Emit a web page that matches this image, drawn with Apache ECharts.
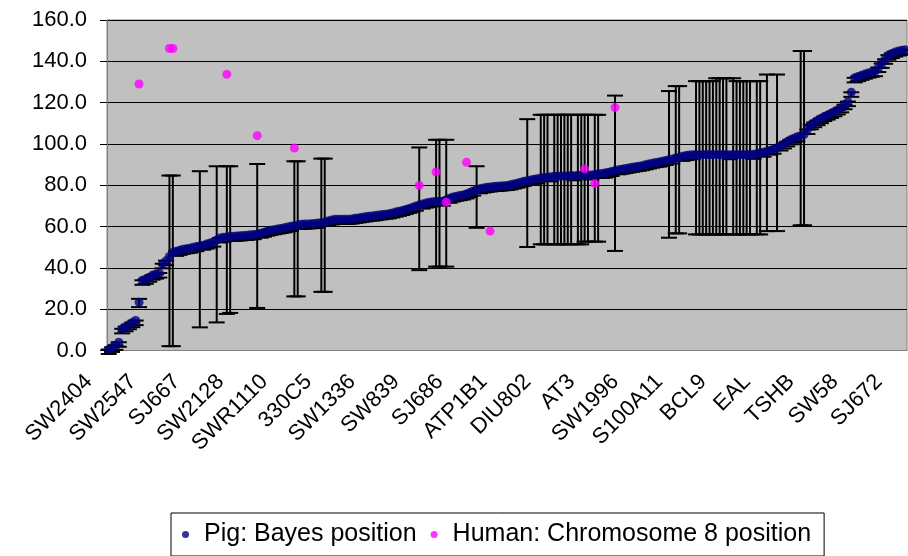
<!DOCTYPE html>
<html>
<head>
<meta charset="utf-8">
<script src="https://cdn.jsdelivr.net/npm/echarts@6/dist/echarts.min.js"></script>
<style>
  html, body { margin: 0; padding: 0; background: #fff; }
  #chart { width: 908px; height: 556px; }
</style>
</head>
<body>
<div id="chart"></div>
<script>
// Pig: Bayes position, one value per marker (ordered)
const bayesPos = [
  0.5, 1.5, 2.5, 4, 10.5, 11.5, 12.5, 13.5, 14.5, 23.3,
  34, 34.5, 35.5, 36.5, 37, 37.5, 42, 43.5, 45.5, 47.5,
  48, 48.5, 49, 49.3, 49.5, 50, 50.3, 50.6, 51, 51.5,
  52, 52.5, 53.5, 54.5, 54.8, 55, 55.2, 55.3, 55.4, 55.5,
  55.7, 55.8, 56, 56.1, 56.3, 56.8, 57.3, 57.8, 58.2, 58.5,
  58.8, 59.1, 59.4, 59.8, 60.1, 60.4, 60.7, 61.1, 61.2, 61.3,
  61.4, 61.5, 61.7, 61.8, 62.2, 62.7, 63.2, 63.5, 63.5, 63.5,
  63.5, 63.5, 63.7, 64, 64.2, 64.5, 64.7, 65, 65.1, 65.3,
  65.6, 65.8, 66, 66.2, 66.6, 67, 67.4, 67.8, 68.3, 68.8,
  69.3, 69.9, 70.4, 70.9, 71.4, 71.8, 72, 72.1, 72.2, 72.3,
  73, 73.7, 74.3, 74.7, 75, 75.3, 75.8, 76.5, 77.2, 77.8,
  78.3, 78.7, 79, 79.2, 79.4, 79.5, 79.6, 79.8, 79.9, 80.2,
  80.6, 81, 81.5, 81.9, 82.2, 82.5, 82.9, 83.2, 83.5, 83.7,
  83.9, 84.1, 84.2, 84.3, 84.4, 84.5, 84.5, 84.6, 84.6, 84.7,
  84.7, 84.8, 84.8, 85, 85.2, 85.5, 85.7, 85.9, 86.3, 86.7,
  87.1, 87.5, 87.8, 88.1, 88.4, 88.7, 89, 89.2, 89.5, 89.9,
  90.3, 90.7, 91, 91.2, 91.6, 92, 92.3, 92.7, 93.2, 93.5,
  94, 94.4, 94.7, 94.8, 94.8, 94.8, 94.8, 94.8, 94.8, 94.8,
  94.8, 94.8, 94.8, 94.8, 94.8, 94.8, 94.8, 94.8, 94.8, 94.8,
  94.8, 95, 95.3, 95.6, 96, 96.5, 97, 97.5, 98, 99,
  100, 101, 102, 102.8, 103.5, 104, 104.5, 107, 109.3, 110.3,
  111.3, 112.3, 113.3, 114, 114.8, 115.6, 116.5, 117.5, 119, 120.5,
  125, 132, 132.6, 133.2, 133.8, 134.3, 134.7, 135, 137, 139,
  141, 143, 143.8, 144.5, 145, 145.4, 145.6
];

// every 13th marker name is printed on the axis
const tickLabels = ['SW2404', 'SW2547', 'SJ667', 'SW2128', 'SWR1110', '330C5', 'SW1336',
  'SW839', 'SJ686', 'ATP1B1', 'DIU802', 'AT3', 'SW1996', 'S100A11', 'BCL9', 'EAL',
  'TSHB', 'SW58', 'SJ672'];
const labelStep = 13;

// confidence bars (marker index, low, high)
const barCats = [9, 18, 19, 27, 32, 35, 36, 44, 55, 56, 63, 64, 92, 97, 98, 100, 109, 124,
  128, 129, 130, 132, 133, 134, 135, 136, 137, 139, 140, 141, 142, 144, 145, 150,
  166, 168, 169,
  174, 175, 176, 177, 178, 179, 180, 181, 182, 183, 185, 186, 187, 188, 189, 190, 192, 193,
  195, 198, 205, 206];
const barLow = [21, 2.1, 2.1, 11.2, 13.6, 17.7, 18.2, 20.6, 26.2, 26.2, 28.4, 28.4, 38.9, 40.6, 40.6, 40.6, 59.4, 50.1,
  51.4, 51.4, 51.4, 51.4, 51.4, 51.4, 51.4, 51.4, 51.4, 51.4, 51.4, 52.7, 52.7, 52.7, 52.7, 48.2,
  54.6, 56.7, 56.7,
  56.2, 56.2, 56.2, 56.2, 56.2, 56.2, 56.2, 56.2, 56.2, 56.2, 56.2, 56.2, 56.2, 56.2, 56.2, 56.2, 56.2, 56.2,
  57.8, 57.8, 60.6, 60.6];
const barHigh = [25, 84.7, 84.7, 86.8, 89.2, 89.2, 89.2, 90.3, 91.6, 91.6, 92.9, 92.9, 98.3, 102, 102, 102, 89.2, 112,
  114.1, 114.1, 114.1, 114.1, 114.1, 114.1, 114.1, 114.1, 114.1, 114.1, 114.1, 114.1, 114.1, 114.1, 114.1, 123.4,
  125.6, 128, 128,
  130.4, 130.4, 130.4, 130.4, 130.4, 130.4, 131.8, 131.8, 131.8, 131.8, 131.8, 130.4, 130.4, 130.4, 130.4, 130.4, 130.4, 130.4,
  133.6, 133.6, 145, 145];
// short lower whisker visible under the other markers
const smallErr = 2.2;

// Human: Chromosome 8 position
const humanCats = [9, 18, 19, 35, 44, 55, 92, 97, 100, 106, 113, 141, 144, 150];
const humanPos = [129, 146.2, 146.2, 133.7, 104, 98, 79.9, 86.4, 71.8, 91.1, 57.8, 87.9, 80.8, 117.6];

const FONT = '"Liberation Sans", Arial, sans-serif';

const categories = bayesPos.map((_, i) => String(i));
const errData = bayesPos.map((v, i) => {
  const k = barCats.indexOf(i);
  return k >= 0 ? [i, barLow[k], barHigh[k]] : [i, v - smallErr, v];
});

const chart = echarts.init(document.getElementById('chart'), null, { renderer: 'canvas' });

const option = {
  backgroundColor: '#fff',
  animation: false,
  grid: {
    left: 107, right: 1, top: 20, bottom: 205.5,
    show: true,
    backgroundColor: '#c0c0c0',
    borderColor: '#808080',
    borderWidth: 1,
    containLabel: false,
    outerBoundsMode: 'none'
  },
  legend: {
    data: ['Pig: Bayes position', 'Human: Chromosome 8 position'],
    left: 171, top: 513,
    padding: [9, 13, 9, 11],
    itemGap: 14,
    itemWidth: 7, itemHeight: 7,
    icon: 'circle',
    backgroundColor: '#fff',
    borderColor: '#000',
    borderWidth: 1,
    borderRadius: 0,
    textStyle: { fontFamily: FONT, fontSize: 25, color: '#000', padding: [0, 0, 0, 10] }
  },
  xAxis: {
    type: 'category',
    data: categories,
    boundaryGap: true,
    axisLine: { lineStyle: { color: '#808080', width: 1 } },
    axisTick: { interval: 0, length: 5, lineStyle: { color: '#000' } },
    axisLabel: {
      interval: labelStep - 1,
      rotate: 45,
      margin: 8,
      padding: [18, 28, 0, 0],
      fontFamily: FONT, fontSize: 22, color: '#000',
      formatter: (v, idx) => (idx % labelStep === 0 ? (tickLabels[idx / labelStep] || '') : '')
    },
    splitLine: { show: false }
  },
  yAxis: {
    type: 'value',
    min: 0, max: 160, interval: 20,
    axisLine: { show: true, lineStyle: { color: '#808080' } },
    axisTick: { show: true, length: 7, lineStyle: { color: '#000' } },
    axisLabel: {
      margin: 20,
      fontFamily: FONT, fontSize: 22, color: '#000',
      formatter: v => v.toFixed(1)
    },
    splitLine: { lineStyle: { color: '#000', width: 1 } }
  },
  series: [
    {
      name: 'bars',
      type: 'custom',
      silent: true,
      z: 2,
      encode: { x: 0, y: [1, 2] },
      data: errData,
      renderItem: (params, api) => {
        const lo = api.coord([api.value(0), api.value(1)]);
        const hi = api.coord([api.value(0), api.value(2)]);
        const half = 8;
        const st = { stroke: '#000', lineWidth: 2 };
        return {
          type: 'group',
          children: [
            { type: 'line', shape: { x1: lo[0], y1: lo[1], x2: hi[0], y2: hi[1] }, style: st },
            { type: 'line', shape: { x1: lo[0] - half, y1: lo[1], x2: lo[0] + half, y2: lo[1] }, style: st },
            { type: 'line', shape: { x1: hi[0] - half, y1: hi[1], x2: hi[0] + half, y2: hi[1] }, style: st }
          ]
        };
      }
    },
    {
      name: 'Pig: Bayes position',
      type: 'scatter',
      z: 3,
      symbol: 'circle',
      symbolSize: 9,
      itemStyle: { color: '#000080' },
      data: bayesPos
    },
    {
      name: 'Human: Chromosome 8 position',
      type: 'scatter',
      z: 4,
      symbol: 'circle',
      symbolSize: 9,
      itemStyle: { color: '#ff00ff' },
      data: humanCats.map((c, i) => [c, humanPos[i]])
    }
  ]
};

chart.setOption(option);
</script>
</body>
</html>
